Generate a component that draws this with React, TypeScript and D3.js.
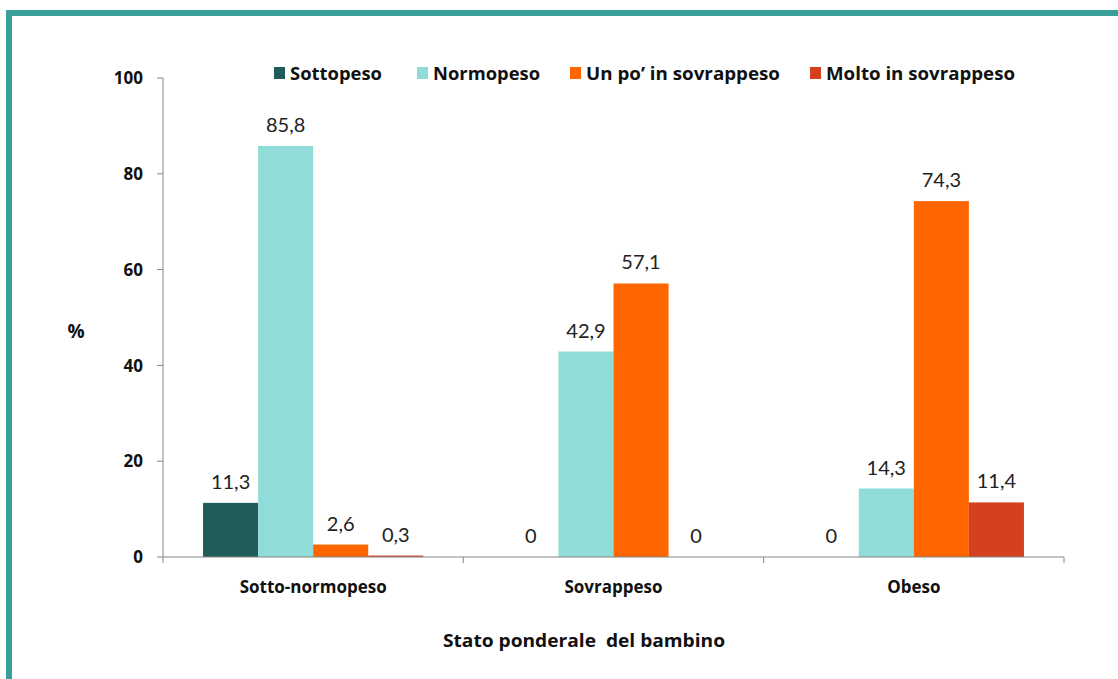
import React from "react";
import * as d3 from "d3";

const categories = ["Sotto-normopeso", "Sovrappeso", "Obeso"];
const seriesNames = ["Sottopeso", "Normopeso", "Un po\u2019 in sovrappeso", "Molto in sovrappeso"];
const sottopeso = [11.3, 0, 0];
const normopeso = [85.8, 42.9, 14.3];
const unPo = [2.6, 57.1, 74.3];
const molto = [0.3, 0, 11.4];
const yTicks = [0, 20, 40, 60, 80, 100];
const colors = ["#1f5c5a", "#8fdcd8", "#ff6600", "#d5401f"];

const W = 1118;
const H = 679;
const boldFont = "'Open Sans', Lato, sans-serif";
const valFont = "Lato, 'Open Sans', sans-serif";

export default function App() {
  const seriesValues = [sottopeso, normopeso, unPo, molto];
  const x0 = d3.scaleBand<string>().domain(categories).range([163, 1064]).paddingInner(0).paddingOuter(0);
  const x1 = d3
    .scaleBand<number>()
    .domain(d3.range(seriesNames.length))
    .range([0, x0.bandwidth()])
    .paddingOuter(0.7273)
    .paddingInner(0);
  const y = d3.scaleLinear().domain([0, 100]).range([557, 78]);
  const fmt = (v: number) => (v === 0 ? "0" : d3.format(".1f")(v).replace(".", ","));
  const legendX = [274, 417, 570, 810];
  const legendLen = [92, 107, 194, 189];
  const boundaries = [...categories.map((c) => x0(c)!), 1064];

  return (
    <svg width={W} height={H} style={{ position: "absolute", left: 0, top: 0, background: "#fff" }}>
      <rect x={0} y={0} width={W} height={H} fill="#fff" />
      {/* frame */}
      <rect x={9} y={13} width={W + 20} height={H + 20} fill="none" stroke="#3a9e98" strokeWidth={6} />

      {/* bars */}
      {categories.map((c, ci) => (
        <g key={c} transform={`translate(${x0(c)},0)`}>
          {seriesValues.map((vals, si) => {
            const v = vals[ci];
            const bx = x1(si)!;
            return (
              <g key={si}>
                {v > 0 && (
                  <rect x={bx} y={y(v)} width={x1.bandwidth()} height={y(0) - y(v)} fill={colors[si]} />
                )}
                <text
                  x={bx + x1.bandwidth() / 2}
                  y={y(v) - 14}
                  textAnchor="middle"
                  fontFamily={valFont}
                  fontSize={20}
                  fill="#222"
                >
                  {fmt(v)}
                </text>
              </g>
            );
          })}
        </g>
      ))}

      {/* y axis */}
      <line x1={163} x2={163} y1={78} y2={557} stroke="#868686" strokeWidth={1} />
      {yTicks.map((t) => (
        <g key={t}>
          <line x1={157} x2={163} y1={y(t)} y2={y(t)} stroke="#868686" />
          <text
            x={143}
            y={y(t)}
            dy="0.36em"
            textAnchor="end"
            fontFamily={boldFont}
            fontWeight="bold"
            fontSize={17}
            fill="#111"
          >
            {t}
          </text>
        </g>
      ))}
      <text x={76} y={338} textAnchor="middle" fontFamily={boldFont} fontWeight="bold" fontSize={19} fill="#111">
        %
      </text>

      {/* x axis */}
      <line x1={163} x2={1064} y1={557} y2={557} stroke="#868686" />
      {boundaries.map((b, i) => (
        <line key={i} x1={b} x2={b} y1={557} y2={563} stroke="#868686" />
      ))}
      {categories.map((c) => (
        <text
          key={c}
          x={x0(c)! + x0.bandwidth() / 2}
          y={593}
          textAnchor="middle"
          fontFamily={boldFont}
          fontWeight="bold"
          fontSize={17}
          fill="#111"
        >
          {c}
        </text>
      ))}
      <text
        x={443}
        y={647}
        fontFamily={boldFont}
        fontWeight="bold"
        fontSize={18}
        fill="#111"
        textLength={282}
        lengthAdjust="spacingAndGlyphs"
        style={{ whiteSpace: "pre" }}
      >
        {"Stato ponderale  del bambino"}
      </text>

      {/* legend */}
      {seriesNames.map((n, i) => (
        <g key={n}>
          <rect x={legendX[i]} y={67} width={11} height={12} fill={colors[i]} />
          <text
            x={legendX[i] + 16}
            y={80}
            fontFamily={boldFont}
            fontWeight="bold"
            fontSize={17}
            fill="#111"
            textLength={legendLen[i]}
            lengthAdjust="spacingAndGlyphs"
          >
            {n}
          </text>
        </g>
      ))}
    </svg>
  );
}
